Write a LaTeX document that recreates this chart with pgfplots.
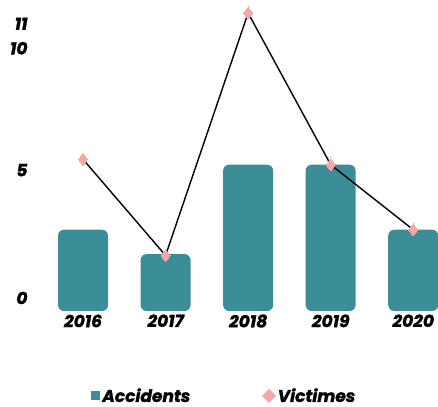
\documentclass[border=0pt]{standalone}
\usepackage{pgfplots}
\pgfplotsset{compat=1.18}
\usepackage{fontspec}
\setmainfont{Poppins}[BoldItalicFeatures={FakeBold=1.6}]
\definecolor{barcol}{HTML}{3B8D97}
\definecolor{pinkc}{HTML}{F2A7A9}

\begin{document}
\begin{tikzpicture}
\begin{axis}[
  scale only axis,
  width=407pt, height=311pt,
  xmin=-0.63, xmax=4.3,
  ymin=0, ymax=11.48,
  clip=false,
  axis line style={draw=none},
  major tick length=0pt,
  xtick={0,1,2,3,4},
  xticklabels={2016,2017,2018,2019,2020},
  ytick={0.48,5.2,9.7,10.6},
  yticklabels={0,5,10,11},
  ticklabel style={font=\fontsize{17}{20}\selectfont\bfseries\itshape},
  legend columns=2,
  legend style={draw=none, fill=none, at={(axis description cs:0.475,-0.273)}, anchor=center,
    font=\fontsize{17}{20}\selectfont\bfseries\itshape,
    /tikz/every even column/.append style={column sep=70pt}},
]
  % Accidents
  \addplot[ybar, bar width=50pt, fill=barcol, draw=none, rounded corners=6pt,
    legend image code/.code={\fill[barcol, sharp corners] (0pt,-4.5pt) rectangle (9pt,4.5pt);}]
    coordinates {(0,3) (1,2.1) (2,5.4) (3,5.4) (4,3)};
  \addlegendentry{Accidents}

  % Victimes
  \addplot[black, line width=1.4pt, mark=diamond*, mark size=6pt,
    mark options={fill=pinkc, draw=pinkc, line width=0pt},
    legend image code/.code={\fill[pinkc] (0pt,0pt) -- (6pt,6pt) -- (12pt,0pt) -- (6pt,-6pt) -- cycle;}]
    coordinates {(0,5.6) (1,2.05) (2,11) (3,5.4) (4,3)};
  \addlegendentry{Victimes}

  \coordinate (bl) at (rel axis cs:0,0);
  \coordinate (tr) at (rel axis cs:1,1);
\end{axis}
\pgfresetboundingbox
\path[use as bounding box] ([shift={(-31pt,-96pt)}]bl) rectangle (tr);
\end{tikzpicture}
\end{document}
